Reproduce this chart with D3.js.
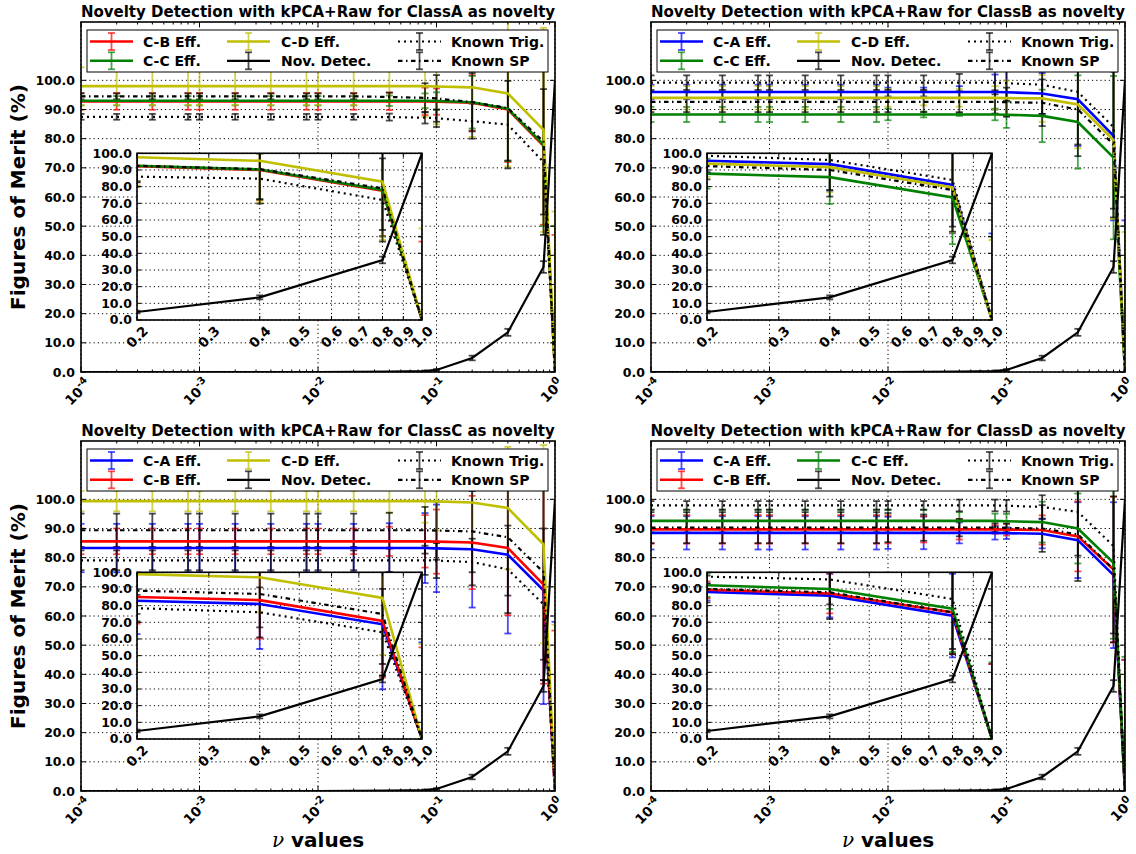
<!DOCTYPE html>
<html>
<head>
<meta charset="utf-8">
<script src="https://cdn.jsdelivr.net/npm/d3@7"></script>
<style>
body { margin: 0; background: #fff; }
svg { display: block; }
text { font-family: "DejaVu Sans", sans-serif; }
</style>
</head>
<body>
<svg width="1136" height="854"></svg>
<script>
// nu values (x axis, log)
var nuValues = [0.0001, 0.0002, 0.0004, 0.0008, 0.001, 0.002, 0.004, 0.008, 0.01, 0.02, 0.04, 0.08, 0.1, 0.2, 0.4, 0.8, 1.0];

// novelty detection (same in every panel)
var novDetec    = [0, 0, 0, 0, 0, 0, 0, 0, 0, 0.05, 0.1, 0.3, 0.7, 4.8, 13.6, 36.0, 100];
var novDetecErr = [0, 0, 0, 0, 0, 0, 0, 0, 0, 0, 0, 0.2, 0.3, 0.8, 1.2, 2.0, 0];

// ClassA as novelty
var cbA     = [92.8, 92.8, 92.8, 92.8, 92.8, 92.8, 92.8, 92.8, 92.8, 92.8, 92.8, 92.8, 92.7, 92.3, 90.0, 77.5, 0];
var cbAErr  = [2.9, 2.9, 2.9, 2.9, 2.9, 2.9, 2.9, 2.9, 2.9, 2.9, 3.0, 4.7, 4.5, 9.5, 18, 27, 47];
var ccA     = [93.0, 93.0, 93.0, 93.0, 93.0, 93.0, 93.0, 93.0, 93.0, 93.0, 93.0, 93.0, 92.9, 92.5, 90.3, 78.0, 0];
var ccAErr  = [1.6, 1.6, 1.6, 1.6, 1.6, 1.6, 1.6, 1.6, 1.6, 1.6, 1.8, 2.5, 3.0, 9.0, 18, 28, 50];
var cdA     = [98.0, 98.0, 98.0, 98.0, 98.0, 98.0, 98.0, 98.0, 98.0, 98.0, 98.0, 98.0, 97.9, 97.6, 95.5, 83.0, 0];
var cdAErr  = [6.5, 6.5, 6.5, 6.5, 6.5, 6.5, 6.5, 6.5, 6.5, 6.5, 5.5, 10.5, 13, 17, 25, 35, 55];
var ktA     = [87.5, 87.5, 87.5, 87.5, 87.5, 87.5, 87.5, 87.5, 87.5, 87.5, 87.4, 87.2, 87.0, 86.0, 84.8, 72.0, 0];
var ktAErr  = [1.0, 1.0, 1.0, 1.0, 1.0, 1.0, 1.0, 1.0, 1.0, 1.0, 1.2, 2.0, 3.0, 6.0, 15, 25, 0];
var kspA    = [94.5, 94.5, 94.5, 94.5, 94.5, 94.5, 94.5, 94.5, 94.5, 94.5, 94.3, 94.0, 93.8, 92.5, 90.5, 79.0, 0];
var kspAErr = [1.0, 1.0, 1.0, 1.0, 1.0, 1.0, 1.0, 1.0, 1.0, 1.0, 1.5, 5.0, 8.0, 10, 18, 25, 0];

// ClassB as novelty
var caB     = [96.0, 96.0, 96.0, 96.0, 96.0, 96.0, 96.0, 96.0, 96.0, 96.0, 96.0, 96.0, 95.9, 95.5, 93.5, 81.0, 0];
var caBErr  = [2.5, 2.5, 2.5, 2.5, 2.5, 2.5, 2.5, 2.5, 1.5, 1.5, 2.0, 6.0, 8.0, 7.0, 16, 29, 52];
var ccB     = [88.3, 88.3, 88.3, 88.3, 88.3, 88.3, 88.3, 88.3, 88.3, 88.3, 88.3, 88.3, 88.2, 87.8, 85.7, 73.5, 0];
var ccBErr  = [2.6, 2.6, 2.6, 2.6, 2.6, 2.6, 2.6, 2.6, 2.0, 1.0, 0.5, 2.0, 4.5, 9.0, 16, 28, 50];
var cdB     = [94.0, 94.0, 94.0, 94.0, 94.0, 94.0, 94.0, 94.0, 94.0, 94.0, 94.0, 94.0, 93.9, 93.8, 91.7, 79.5, 0];
var cdBErr  = [4.0, 4.0, 4.0, 4.0, 4.0, 4.0, 4.0, 4.0, 3.0, 2.6, 3.0, 4.0, 6.0, 8.0, 15, 27, 48];
var ktB     = [99.2, 99.2, 99.2, 99.2, 99.2, 99.2, 99.2, 99.2, 99.2, 99.2, 99.2, 99.2, 99.0, 98.5, 96.0, 84.0, 0];
var ktBErr  = [2.5, 2.5, 2.5, 2.5, 2.5, 2.5, 2.5, 2.5, 2.5, 2.5, 3.0, 4.0, 6.0, 10, 18, 28, 0];
var kspB    = [92.6, 92.6, 92.6, 92.6, 92.6, 92.6, 92.6, 92.6, 92.6, 92.6, 92.6, 92.6, 92.5, 92.3, 90.0, 78.0, 0];
var kspBErr = [3.5, 3.5, 3.5, 3.5, 3.5, 3.5, 3.5, 3.5, 3.5, 3.5, 3.5, 4.0, 5.0, 8.0, 16, 25, 0];

// ClassC as novelty
var caC     = [83.3, 83.3, 83.3, 83.3, 83.3, 83.3, 83.3, 83.3, 83.3, 83.3, 83.3, 83.3, 83.2, 82.9, 81.0, 68.8, 0];
var caCErr  = [8.3, 8.3, 8.3, 8.3, 8.3, 8.3, 8.3, 8.3, 8.3, 8.3, 8.5, 12, 15, 20, 27, 39, 58];
var cbC     = [85.6, 85.6, 85.6, 85.6, 85.6, 85.6, 85.6, 85.6, 85.6, 85.6, 85.6, 85.6, 85.5, 85.2, 83.3, 70.8, 0];
var cbCErr  = [4.4, 4.4, 4.4, 4.4, 4.4, 4.4, 4.4, 4.4, 4.4, 4.4, 5.0, 9.0, 11, 16, 23, 34, 55];
var cdC     = [99.4, 99.4, 99.4, 99.4, 99.4, 99.4, 99.4, 99.4, 99.4, 99.4, 99.4, 99.4, 99.3, 98.9, 97.0, 84.6, 0];
var cdCErr  = [3.5, 3.5, 3.5, 3.5, 3.5, 3.5, 3.5, 3.5, 3.5, 3.5, 4.0, 7.4, 10, 14, 21, 34, 57];
var ktC     = [79.1, 79.1, 79.1, 79.1, 79.1, 79.1, 79.1, 79.1, 79.1, 79.1, 79.1, 79.1, 79.0, 78.5, 76.0, 64.0, 0];
var ktCErr  = [3.4, 3.4, 3.4, 3.4, 3.4, 3.4, 3.4, 3.4, 3.4, 3.4, 4.0, 5.0, 6.0, 8.0, 15, 26, 0];
var kspC    = [89.4, 89.4, 89.4, 89.4, 89.4, 89.4, 89.4, 89.4, 89.4, 89.4, 89.4, 89.4, 89.3, 89.0, 87.0, 75.0, 0];
var kspCErr = [5.7, 5.7, 5.7, 5.7, 5.7, 5.7, 5.7, 5.7, 5.7, 5.7, 6.0, 8.0, 10, 14, 20, 30, 0];

// ClassD as novelty
var caD     = [88.5, 88.5, 88.5, 88.5, 88.5, 88.5, 88.5, 88.5, 88.5, 88.5, 88.5, 88.5, 88.4, 88.2, 86.0, 74.0, 0];
var caDErr  = [5.7, 5.7, 5.7, 5.7, 5.7, 5.7, 5.7, 5.7, 5.5, 5.6, 3.6, 2.3, 2.0, 5.0, 13, 25, 45];
var cbD     = [89.7, 89.7, 89.7, 89.7, 89.7, 89.7, 89.7, 89.7, 89.7, 89.7, 89.7, 89.7, 89.6, 89.5, 87.3, 75.9, 0];
var cbDErr  = [4.9, 4.9, 4.9, 4.9, 4.9, 4.9, 4.9, 4.9, 4.8, 4.5, 3.5, 1.5, 2.0, 5.0, 12, 25, 45];
var ccD     = [92.6, 92.6, 92.6, 92.6, 92.6, 92.6, 92.6, 92.6, 92.6, 92.6, 92.6, 92.6, 92.5, 92.2, 90.0, 78.2, 0];
var ccDErr  = [3.9, 3.9, 3.9, 3.9, 3.9, 3.9, 3.9, 3.9, 3.9, 3.9, 3.0, 2.5, 2.5, 7.0, 12, 26, 46];
var ktD     = [97.9, 97.9, 97.9, 97.9, 97.9, 97.9, 97.9, 97.9, 97.9, 97.9, 97.9, 97.9, 97.8, 97.4, 95.7, 84.0, 0];
var ktDErr  = [1.5, 1.5, 1.5, 1.5, 1.5, 1.5, 1.5, 1.5, 1.5, 1.5, 2.0, 2.0, 2.0, 4.0, 15, 30, 0];
var kspD    = [90.3, 90.3, 90.3, 90.3, 90.3, 90.3, 90.3, 90.3, 90.3, 90.3, 90.3, 90.3, 90.2, 90.0, 88.0, 76.0, 0];
var kspDErr = [5.3, 5.3, 5.3, 5.3, 5.3, 5.3, 5.3, 5.3, 5.0, 4.5, 3.0, 1.5, 1.5, 8.0, 16, 25, 0];

var yTicks = [0, 10, 20, 30, 40, 50, 60, 70, 80, 90, 100];
var xDecades = [1e-4, 1e-3, 1e-2, 1e-1, 1];
var xDecadeExp = ["-4", "-3", "-2", "-1", "0"];
var insetXTicks = [0.2, 0.3, 0.4, 0.5, 0.6, 0.7, 0.8, 0.9, 1.0];

var colors = {A: "#0000ff", B: "#ff0000", C: "#008000", D: "#bfbf00", k: "#000000"};
var dashes = {solid: null, dot: "2,4", dashdot: "4.5,3.5,1.5,3.5"};

function mk(name, color, style, vals, errs) {
  return {name: name, color: color, style: style, vals: vals, errs: errs};
}

var panels = [
  {cls: "ClassA", left: 81, top: 22, ylab: true, xlab: false, series: [
    mk("C-B Eff.", colors.B, "solid", cbA, cbAErr),
    mk("C-C Eff.", colors.C, "solid", ccA, ccAErr),
    mk("C-D Eff.", colors.D, "solid", cdA, cdAErr),
    mk("Nov. Detec.", colors.k, "solid", novDetec, novDetecErr),
    mk("Known Trig.", colors.k, "dot", ktA, ktAErr),
    mk("Known SP", colors.k, "dashdot", kspA, kspAErr)]},
  {cls: "ClassB", left: 651, top: 22, ylab: false, xlab: false, series: [
    mk("C-A Eff.", colors.A, "solid", caB, caBErr),
    mk("C-C Eff.", colors.C, "solid", ccB, ccBErr),
    mk("C-D Eff.", colors.D, "solid", cdB, cdBErr),
    mk("Nov. Detec.", colors.k, "solid", novDetec, novDetecErr),
    mk("Known Trig.", colors.k, "dot", ktB, ktBErr),
    mk("Known SP", colors.k, "dashdot", kspB, kspBErr)]},
  {cls: "ClassC", left: 81, top: 441, ylab: true, xlab: true, series: [
    mk("C-A Eff.", colors.A, "solid", caC, caCErr),
    mk("C-B Eff.", colors.B, "solid", cbC, cbCErr),
    mk("C-D Eff.", colors.D, "solid", cdC, cdCErr),
    mk("Nov. Detec.", colors.k, "solid", novDetec, novDetecErr),
    mk("Known Trig.", colors.k, "dot", ktC, ktCErr),
    mk("Known SP", colors.k, "dashdot", kspC, kspCErr)]},
  {cls: "ClassD", left: 651, top: 441, ylab: false, xlab: true, series: [
    mk("C-A Eff.", colors.A, "solid", caD, caDErr),
    mk("C-B Eff.", colors.B, "solid", cbD, cbDErr),
    mk("C-C Eff.", colors.C, "solid", ccD, ccDErr),
    mk("Nov. Detec.", colors.k, "solid", novDetec, novDetecErr),
    mk("Known Trig.", colors.k, "dot", ktD, ktDErr),
    mk("Known SP", colors.k, "dashdot", kspD, kspDErr)]}
];

var svg = d3.select("svg");
var W = 474, H = 350;
var IW = 285, IH = 166.7, IDX = 56, IDY = 131.3;

var x = d3.scaleLog().domain([1e-4, 1]).range([0, W]);
var y = d3.scaleLinear().domain([0, 120]).range([H, 0]);
var xi = d3.scaleLog().domain([0.2, 1]).range([0, IW]);
var yi = d3.scaleLinear().domain([0, 100]).range([IH, 0]);

var defs = svg.append("defs");

function rotLabel(g, cx, top, main, sup, size) {
  var t = g.append("text")
      .attr("font-size", size)
      .attr("font-weight", "bold")
      .attr("text-anchor", "middle");
  t.append("tspan").text(main);
  if (sup != null) t.append("tspan").attr("font-size", size * 0.75).attr("dy", -size * 0.45).text(sup);
  var w = t.node().getComputedTextLength();
  var h = size * 0.72;
  var half = (w + h) * 0.7071 / 2;
  t.attr("y", h / 2)
   .attr("transform", "translate(" + cx + "," + (top + half) + ") rotate(-45)");
}

function drawSeries(g, xs, ys, series, cap) {
  var line = d3.line()
      .x(function(d) { return xs(d.nu); })
      .y(function(d) { return ys(d.v); });
  // error bars first
  series.forEach(function(s) {
    var pts = nuValues.map(function(nu, i) { return {nu: nu, v: s.vals[i], e: s.errs[i]}; });
    var eb = g.append("g")
        .attr("stroke", s.color)
        .attr("stroke-opacity", 0.7)
        .attr("stroke-width", 1.8);
    pts.forEach(function(p) {
      if (p.e <= 0) return;
      var px = xs(p.nu), y0 = ys(p.v - p.e), y1 = ys(p.v + p.e);
      eb.append("line").attr("x1", px).attr("x2", px).attr("y1", y0).attr("y2", y1);
      eb.append("line").attr("x1", px - cap).attr("x2", px + cap).attr("y1", y0).attr("y2", y0);
      eb.append("line").attr("x1", px - cap).attr("x2", px + cap).attr("y1", y1).attr("y2", y1);
    });
  });
  series.forEach(function(s) {
    var pts = nuValues.map(function(nu, i) { return {nu: nu, v: s.vals[i]}; });
    g.append("path")
        .datum(pts)
        .attr("fill", "none")
        .attr("stroke", s.color)
        .attr("stroke-width", s.color === "#000000" ? 2.2 : 2.6)
        .attr("stroke-dasharray", dashes[s.style])
        .attr("d", line);
  });
}

panels.forEach(function(p, pi) {
  var g = svg.append("g").attr("transform", "translate(" + p.left + "," + p.top + ")");

  defs.append("clipPath").attr("id", "clip" + pi)
    .append("rect").attr("width", W).attr("height", H);
  defs.append("clipPath").attr("id", "iclip" + pi)
    .append("rect").attr("width", IW).attr("height", IH);

  // grid
  var grid = g.append("g").attr("stroke", "#000").attr("stroke-width", 1).attr("stroke-dasharray", "1.2,3");
  yTicks.forEach(function(t) {
    grid.append("line").attr("x1", 0).attr("x2", W).attr("y1", y(t)).attr("y2", y(t));
  });
  xDecades.forEach(function(t) {
    grid.append("line").attr("x1", x(t)).attr("x2", x(t)).attr("y1", 0).attr("y2", H);
  });

  // data
  var dg = g.append("g").attr("clip-path", "url(#clip" + pi + ")");
  drawSeries(dg, x, y, p.series, 3.5);

  // frame + ticks
  var fr = g.append("g").attr("stroke", "#000");
  yTicks.forEach(function(t) {
    fr.append("line").attr("x1", 0).attr("x2", 5).attr("y1", y(t)).attr("y2", y(t));
    fr.append("line").attr("x1", W).attr("x2", W - 5).attr("y1", y(t)).attr("y2", y(t));
  });
  xDecades.forEach(function(t, i) {
    fr.append("line").attr("x1", x(t)).attr("x2", x(t)).attr("y1", H).attr("y2", H - 5);
    fr.append("line").attr("x1", x(t)).attr("x2", x(t)).attr("y1", 0).attr("y2", 5);
    if (i < xDecades.length - 1) {
      for (var m = 2; m <= 9; m++) {
        var mx = x(t * m);
        fr.append("line").attr("x1", mx).attr("x2", mx).attr("y1", H).attr("y2", H - 2.5);
        fr.append("line").attr("x1", mx).attr("x2", mx).attr("y1", 0).attr("y2", 2.5);
      }
    }
  });
  g.append("rect").attr("width", W).attr("height", H)
      .attr("fill", "none").attr("stroke", "#000").attr("stroke-width", 1.6);

  // tick labels
  yTicks.forEach(function(t) {
    g.append("text").attr("x", -6).attr("y", y(t)).attr("dy", "0.36em")
        .attr("text-anchor", "end").attr("font-size", 12.5).attr("font-weight", "bold")
        .text(t.toFixed(1));
  });
  xDecades.forEach(function(t, i) {
    rotLabel(g, x(t) - 3, H + 6, "10", xDecadeExp[i], 13.5);
  });

  // inset
  var ig = g.append("g").attr("transform", "translate(" + IDX + "," + IDY + ")");
  ig.append("rect").attr("width", IW).attr("height", IH).attr("fill", "#fff");
  var igrid = ig.append("g").attr("stroke", "#000").attr("stroke-width", 1).attr("stroke-dasharray", "1.2,3");
  yTicks.forEach(function(t) {
    igrid.append("line").attr("x1", 0).attr("x2", IW).attr("y1", yi(t)).attr("y2", yi(t));
  });
  insetXTicks.forEach(function(t) {
    igrid.append("line").attr("x1", xi(t)).attr("x2", xi(t)).attr("y1", 0).attr("y2", IH);
  });
  var idg = ig.append("g").attr("clip-path", "url(#iclip" + pi + ")");
  drawSeries(idg, xi, yi, p.series, 3.5);
  var ifr = ig.append("g").attr("stroke", "#000");
  yTicks.forEach(function(t) {
    ifr.append("line").attr("x1", 0).attr("x2", 4).attr("y1", yi(t)).attr("y2", yi(t));
    ifr.append("line").attr("x1", IW).attr("x2", IW - 4).attr("y1", yi(t)).attr("y2", yi(t));
  });
  insetXTicks.forEach(function(t) {
    ifr.append("line").attr("x1", xi(t)).attr("x2", xi(t)).attr("y1", IH).attr("y2", IH - 4);
    ifr.append("line").attr("x1", xi(t)).attr("x2", xi(t)).attr("y1", 0).attr("y2", 4);
  });
  ig.append("rect").attr("width", IW).attr("height", IH)
      .attr("fill", "none").attr("stroke", "#000").attr("stroke-width", 1.6);
  yTicks.forEach(function(t) {
    ig.append("text").attr("x", -5).attr("y", yi(t)).attr("dy", "0.36em")
        .attr("text-anchor", "end").attr("font-size", 12.5).attr("font-weight", "bold")
        .text(t.toFixed(1));
  });
  insetXTicks.forEach(function(t) {
    rotLabel(ig, xi(t), IH + 5, t.toFixed(1), null, 13.5);
  });

  // legend
  var lg = g.append("g");
  lg.append("rect").attr("x", 6).attr("y", 8).attr("width", 461).attr("height", 42)
      .attr("fill", "#fff").attr("stroke", "#000").attr("stroke-width", 1);
  var legCols = [[9, 62], [146, 200], [317, 370]];
  var legRows = [19.5, 38.8];
  p.series.forEach(function(s, i) {
    var c = legCols[Math.floor(i / 2)], ry = legRows[i % 2];
    var mid = c[0] + 21.5;
    var it = lg.append("g").attr("stroke", s.color);
    it.append("line").attr("x1", mid).attr("x2", mid).attr("y1", ry - 8.5).attr("y2", ry + 8.5)
        .attr("stroke-width", 1.8).attr("stroke-opacity", 0.7);
    it.append("line").attr("x1", mid - 3.5).attr("x2", mid + 3.5).attr("y1", ry - 8.5).attr("y2", ry - 8.5)
        .attr("stroke-width", 1.8).attr("stroke-opacity", 0.7);
    it.append("line").attr("x1", mid - 3.5).attr("x2", mid + 3.5).attr("y1", ry + 8.5).attr("y2", ry + 8.5)
        .attr("stroke-width", 1.8).attr("stroke-opacity", 0.7);
    it.append("line").attr("x1", c[0]).attr("x2", c[0] + 43).attr("y1", ry).attr("y2", ry)
        .attr("stroke-width", s.color === "#000000" ? 2.2 : 2.6)
        .attr("stroke-dasharray", dashes[s.style]);
    lg.append("text").attr("x", c[1]).attr("y", ry).attr("dy", "0.36em")
        .attr("font-size", 14).attr("font-weight", "bold").text(s.name);
  });

  // title
  g.append("text").attr("x", W / 2).attr("y", -5).attr("text-anchor", "middle")
      .attr("font-size", 15).attr("font-weight", "bold")
      .text("Novelty Detection with kPCA+Raw for " + p.cls + " as novelty");

  if (p.ylab) {
    svg.append("text")
        .attr("transform", "translate(" + 25 + "," + (p.top + H / 2) + ") rotate(-90)")
        .attr("text-anchor", "middle").attr("font-size", 20).attr("font-weight", "bold")
        .text("Figures of Merit (%)");
  }
  if (p.xlab) {
    var xl = svg.append("text")
        .attr("x", p.left + W / 2).attr("y", 847)
        .attr("text-anchor", "middle").attr("font-size", 20);
    xl.append("tspan").attr("font-family", "DejaVu Serif").attr("font-style", "italic").text("\u03bd");
    xl.append("tspan").attr("font-weight", "bold").text(" values");
  }
});
</script>
</body>
</html>
